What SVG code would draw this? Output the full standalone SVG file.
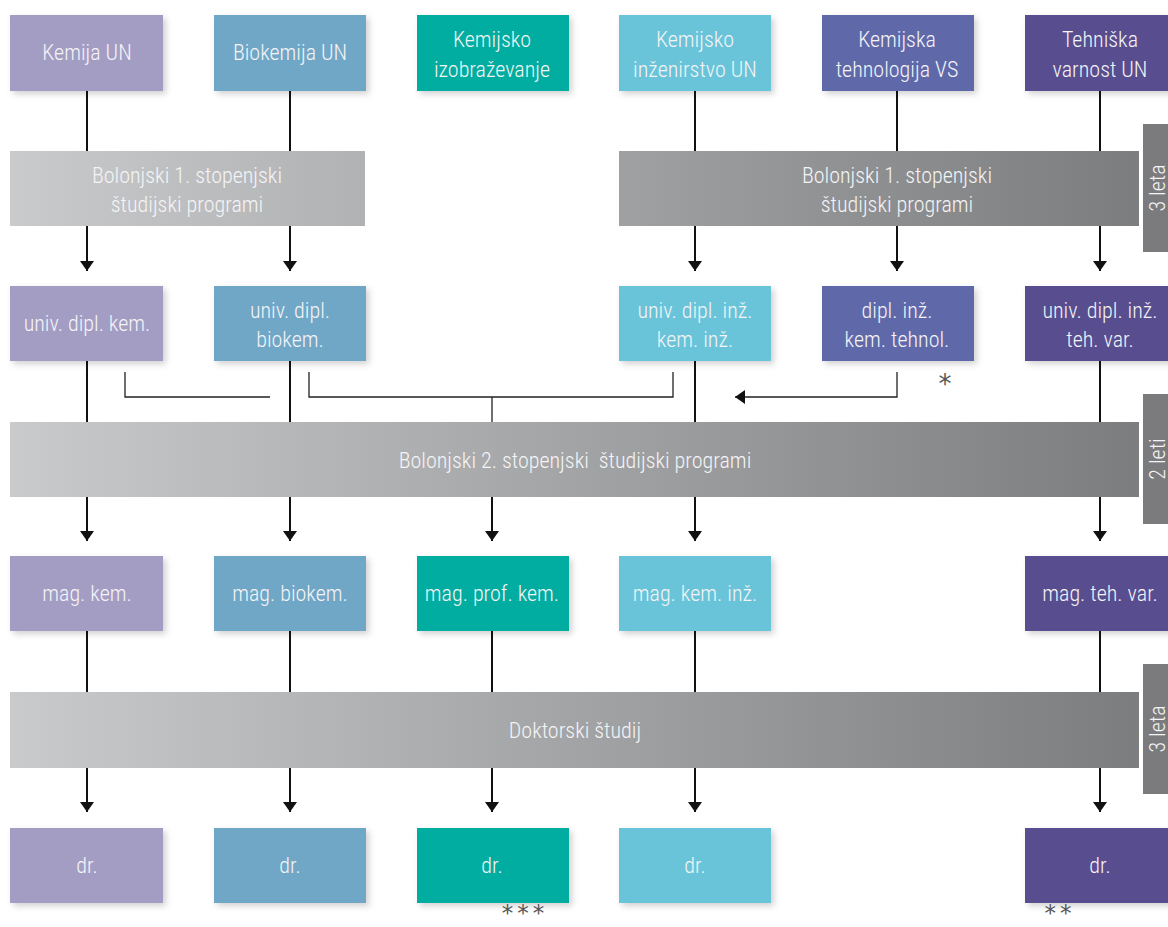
<svg xmlns="http://www.w3.org/2000/svg" width="1168" height="927" viewBox="0 0 1168 927">
<defs>
<linearGradient id="bar" gradientUnits="userSpaceOnUse" x1="10" y1="0" x2="1139" y2="0">
<stop offset="0" stop-color="#C9CACC"/>
<stop offset="1" stop-color="#7C7D7F"/>
</linearGradient>
<filter id="sh" x="-10%" y="-10%" width="130%" height="130%">
<feDropShadow dx="3" dy="3" stdDeviation="3" flood-color="#000" flood-opacity="0.18"/>
</filter>
<marker id="ah" viewBox="0 0 10 14" refX="10" refY="7" markerWidth="10" markerHeight="14" markerUnits="userSpaceOnUse" orient="auto">
<path d="M0,0 L10,7 L0,14 Z" fill="#111"/>
</marker>
</defs>
<style>
.t{font-family:"Roboto Condensed","Liberation Sans Narrow",Roboto,"Liberation Sans",sans-serif;font-weight:300;font-size:22px;fill:#F4F4F6;text-anchor:middle}
.c1{fill:#A39DC4}.c2{fill:#6FA7C6}.c3{fill:#00ADA0}.c4{fill:#69C4D9}.c5{fill:#5F69AA}.c6{fill:#584D8F}
.b{filter:url(#sh)}
.bar{fill:url(#bar)}
.tab{fill:#7B7B7D}
.ln{stroke:#111;stroke-width:2;fill:none}
.br{stroke:#222;stroke-width:1.3;fill:none}
.ast{font-family:"DejaVu Sans",sans-serif;font-size:26px;fill:#555;text-anchor:middle}
.ast2{font-family:"DejaVu Sans",sans-serif;font-size:23px;fill:#555;text-anchor:middle}
</style>
<rect width="1168" height="927" fill="#fff"/>

<g id="connectors">
<line class="ln" x1="87" y1="91" x2="87" y2="151"/>
<line class="ln" x1="290" y1="91" x2="290" y2="151"/>
<line class="ln" x1="695" y1="91" x2="695" y2="151"/>
<line class="ln" x1="897" y1="91" x2="897" y2="151"/>
<line class="ln" x1="1100" y1="91" x2="1100" y2="151"/>
<line class="ln" x1="87" y1="226" x2="87" y2="271" marker-end="url(#ah)"/>
<line class="ln" x1="290" y1="226" x2="290" y2="271" marker-end="url(#ah)"/>
<line class="ln" x1="695" y1="226" x2="695" y2="271" marker-end="url(#ah)"/>
<line class="ln" x1="897" y1="226" x2="897" y2="271" marker-end="url(#ah)"/>
<line class="ln" x1="1100" y1="226" x2="1100" y2="271" marker-end="url(#ah)"/>
<line class="ln" x1="87" y1="361" x2="87" y2="422"/>
<line class="ln" x1="290" y1="361" x2="290" y2="422"/>
<line class="ln" x1="695" y1="361" x2="695" y2="422"/>
<line class="ln" x1="1100" y1="361" x2="1100" y2="422"/>
<polyline class="br" points="125,372 125,397 270,397"/>
<polyline class="br" points="309,372 309,397 673,397 673,372"/>
<line class="br" x1="492" y1="397" x2="492" y2="422"/>
<polyline class="br" points="897,372 897,397 735,397" marker-end="url(#ah)"/>
<line class="ln" x1="87" y1="497" x2="87" y2="541" marker-end="url(#ah)"/>
<line class="ln" x1="290" y1="497" x2="290" y2="541" marker-end="url(#ah)"/>
<line class="ln" x1="492" y1="497" x2="492" y2="541" marker-end="url(#ah)"/>
<line class="ln" x1="695" y1="497" x2="695" y2="541" marker-end="url(#ah)"/>
<line class="ln" x1="1100" y1="497" x2="1100" y2="541" marker-end="url(#ah)"/>
<line class="ln" x1="87" y1="631" x2="87" y2="692"/>
<line class="ln" x1="290" y1="631" x2="290" y2="692"/>
<line class="ln" x1="492" y1="631" x2="492" y2="692"/>
<line class="ln" x1="695" y1="631" x2="695" y2="692"/>
<line class="ln" x1="1100" y1="631" x2="1100" y2="692"/>
<line class="ln" x1="87" y1="768" x2="87" y2="812" marker-end="url(#ah)"/>
<line class="ln" x1="290" y1="768" x2="290" y2="812" marker-end="url(#ah)"/>
<line class="ln" x1="492" y1="768" x2="492" y2="812" marker-end="url(#ah)"/>
<line class="ln" x1="695" y1="768" x2="695" y2="812" marker-end="url(#ah)"/>
<line class="ln" x1="1100" y1="768" x2="1100" y2="812" marker-end="url(#ah)"/>
</g>

<g id="kemija-un"><rect class="b c1" x="10" y="15" width="153" height="76"/><text class="t" x="87" y="60">Kemija UN</text></g>
<g id="biokemija-un"><rect class="b c2" x="214" y="15" width="152" height="76"/><text class="t" x="290" y="60">Biokemija UN</text></g>
<g id="kemijsko-izobrazevanje"><rect class="b c3" x="417" y="15" width="152" height="76"/><text class="t" x="492" y="47">Kemijsko</text><text class="t" x="492" y="77">izobraževanje</text></g>
<g id="kemijsko-inzenirstvo-un"><rect class="b c4" x="619" y="15" width="152" height="76"/><text class="t" x="695" y="47">Kemijsko</text><text class="t" x="695" y="77">inženirstvo UN</text></g>
<g id="kemijska-tehnologija-vs"><rect class="b c5" x="822" y="15" width="152" height="76"/><text class="t" x="897" y="47">Kemijska</text><text class="t" x="897" y="77">tehnologija VS</text></g>
<g id="tehniska-varnost-un"><rect class="b c6" x="1025" y="15" width="152" height="76"/><text class="t" x="1100" y="47">Tehniška</text><text class="t" x="1100" y="77">varnost UN</text></g>

<g id="bolonjski1-left"><rect class="bar" x="10" y="151" width="355" height="75"/><text class="t" x="187" y="183">Bolonjski 1. stopenjski</text><text class="t" x="187" y="212">študijski programi</text></g>
<g id="bolonjski1-right"><rect class="bar" x="619" y="151" width="520" height="75"/><text class="t" x="897" y="183">Bolonjski 1. stopenjski</text><text class="t" x="897" y="212">študijski programi</text></g>
<g id="tab-3leta-1"><rect class="tab" x="1143" y="124" width="30" height="128"/><text class="t" transform="translate(1165,188) rotate(-90)">3 leta</text></g>

<g id="univ-dipl-kem"><rect class="b c1" x="10" y="286" width="153" height="75"/><text class="t" x="87" y="331">univ. dipl. kem.</text></g>
<g id="univ-dipl-biokem"><rect class="b c2" x="214" y="286" width="152" height="75"/><text class="t" x="290" y="318">univ. dipl.</text><text class="t" x="290" y="347">biokem.</text></g>
<g id="univ-dipl-inz-kem-inz"><rect class="b c4" x="619" y="286" width="152" height="75"/><text class="t" x="695" y="318">univ. dipl. inž.</text><text class="t" x="695" y="347">kem. inž.</text></g>
<g id="dipl-inz-kem-tehnol"><rect class="b c5" x="822" y="286" width="152" height="75"/><text class="t" x="897" y="318">dipl. inž.</text><text class="t" x="897" y="347">kem. tehnol.</text></g>
<g id="univ-dipl-inz-teh-var"><rect class="b c6" x="1025" y="286" width="152" height="75"/><text class="t" x="1100" y="318">univ. dipl. inž.</text><text class="t" x="1100" y="347">teh. var.</text></g>
<text class="ast" x="945" y="393">*</text>

<g id="bolonjski2"><rect class="bar" x="10" y="422" width="1129" height="75"/><text class="t" x="575" y="468" xml:space="preserve">Bolonjski 2. stopenjski  študijski programi</text></g>
<g id="tab-2leti"><rect class="tab" x="1143" y="394" width="30" height="130"/><text class="t" transform="translate(1165,459) rotate(-90)">2 leti</text></g>

<g id="mag-kem"><rect class="b c1" x="10" y="556" width="153" height="75"/><text class="t" x="87" y="601">mag. kem.</text></g>
<g id="mag-biokem"><rect class="b c2" x="214" y="556" width="152" height="75"/><text class="t" x="290" y="601">mag. biokem.</text></g>
<g id="mag-prof-kem"><rect class="b c3" x="417" y="556" width="152" height="75"/><text class="t" x="492" y="601">mag. prof. kem.</text></g>
<g id="mag-kem-inz"><rect class="b c4" x="619" y="556" width="152" height="75"/><text class="t" x="695" y="601">mag. kem. inž.</text></g>
<g id="mag-teh-var"><rect class="b c6" x="1025" y="556" width="152" height="75"/><text class="t" x="1100" y="601">mag. teh. var.</text></g>

<g id="doktorski"><rect class="bar" x="10" y="692" width="1129" height="76"/><text class="t" x="575" y="738">Doktorski študij</text></g>
<g id="tab-3leta-2"><rect class="tab" x="1143" y="664" width="30" height="130"/><text class="t" transform="translate(1165,729) rotate(-90)">3 leta</text></g>

<g id="dr-1"><rect class="b c1" x="10" y="828" width="153" height="75"/><text class="t" x="87" y="873">dr.</text></g>
<g id="dr-2"><rect class="b c2" x="214" y="828" width="152" height="75"/><text class="t" x="290" y="873">dr.</text></g>
<g id="dr-3"><rect class="b c3" x="417" y="828" width="152" height="75"/><text class="t" x="492" y="873">dr.</text></g>
<g id="dr-4"><rect class="b c4" x="619" y="828" width="152" height="75"/><text class="t" x="695" y="873">dr.</text></g>
<g id="dr-5"><rect class="b c6" x="1025" y="828" width="152" height="75"/><text class="t" x="1100" y="873">dr.</text></g>
<text class="ast2" x="525" y="921" letter-spacing="4">***</text>
<text class="ast2" x="1060" y="921" letter-spacing="4">**</text>
</svg>
